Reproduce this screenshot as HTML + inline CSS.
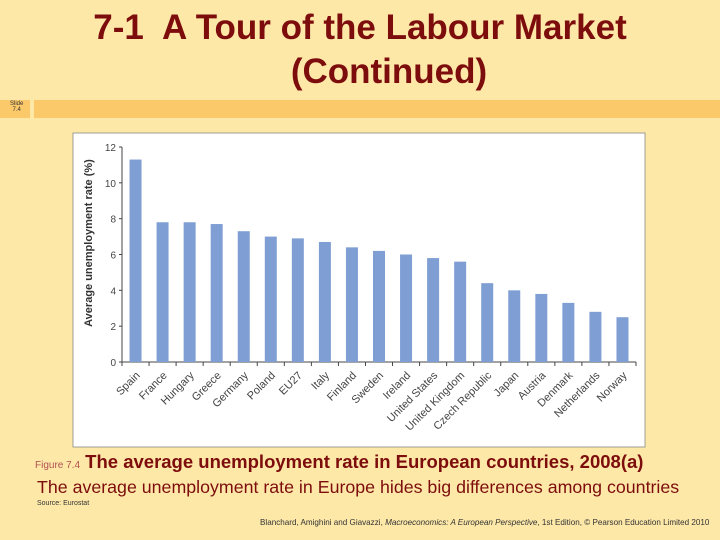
<!DOCTYPE html>
<html><head><meta charset="utf-8"><style>
body{margin:0;width:720px;height:540px;background:#fde8a8;position:relative;overflow:hidden;font-family:"Liberation Sans",sans-serif}
.t{position:absolute;left:0;width:720px;text-align:center;color:#7d0d0d;font-weight:bold;font-size:35px}
</style></head><body>
<div class="t" style="top:8px;left:0">7-1&nbsp; A Tour of the Labour Market</div>
<div class="t" style="top:52px;left:29px">(Continued)</div>
<div style="position:absolute;left:0;top:100px;width:30px;height:18px;background:#fcc96a"></div>
<div style="position:absolute;left:34px;top:100px;width:686px;height:18px;background:#fcc96a"></div>
<div style="position:absolute;left:10px;top:101px;font-size:6px;line-height:6px;text-align:center;color:#333">Slide<br>7.4</div>
<svg style="position:absolute;left:0;top:0" width="720" height="540">
<rect x="73" y="133" width="572" height="314" fill="#fff" stroke="#888" stroke-width="0.8"/>
<g id="g"></g>
</svg>
<div style="position:absolute;left:35px;top:451px;font-size:18.5px;color:#7d0d0d;white-space:nowrap"><span style="font-size:10px;color:#b05050">Figure 7.4</span> <b>The average unemployment rate in European countries, 2008(a)</b></div>
<div style="position:absolute;left:37px;top:477px;font-size:17.8px;color:#7d0d0d;white-space:nowrap">The average unemployment rate in Europe hides big differences among countries</div>
<div style="position:absolute;left:37px;top:500px;font-size:7px;color:#333">Source: Eurostat</div>
<div style="position:absolute;left:260px;top:518px;font-size:8.1px;color:#333;white-space:nowrap">Blanchard, Amighini and Giavazzi, <i>Macroeconomics: A European Perspective</i>, 1st Edition, © Pearson Education Limited 2010</div>
<script>
const categories=["Spain","France","Hungary","Greece","Germany","Poland","EU27","Italy","Finland","Sweden","Ireland","United States","United Kingdom","Czech Republic","Japan","Austria","Denmark","Netherlands","Norway"];
const values=[11.3,7.8,7.8,7.7,7.3,7.0,6.9,6.7,6.4,6.2,6.0,5.8,5.6,4.4,4.0,3.8,3.3,2.8,2.5];
const yTicks=[0,2,4,6,8,10,12];
const NS="http://www.w3.org/2000/svg";
const g=document.getElementById('g');
const x0=122,x1=636,y0=362,y12=147;
const bw=(x1-x0)/categories.length;
const X=i=>x0+bw*(i+0.5);
const Y=v=>y0-(y0-y12)*v/12;
function mk(t,a){const e=document.createElementNS(NS,t);for(const k in a)e.setAttribute(k,a[k]);g.appendChild(e);return e;}
let e=mk('line',{x1:x0,y1:y0,x2:x1,y2:y0,stroke:'#444','stroke-width':1});

e=mk('line',{x1:x0,y1:Y(12),x2:x0,y2:y0,stroke:'#444','stroke-width':1});

yTicks.forEach(v=>{
 const l=mk('line',{x1:x0-3,x2:x0,y1:Y(v),y2:Y(v),stroke:'#444'});
 
 const t=mk('text',{x:x0-6,y:Y(v)+4,'text-anchor':'end','font-size':10,fill:'#444'});t.textContent=v;
 
});
for(let i=0;i<=categories.length;i++){
 const l=mk('line',{x1:x0+bw*i,x2:x0+bw*i,y1:y0,y2:y0+4,stroke:'#444'});
 
}
categories.forEach((c,i)=>{
 const r=mk('rect',{x:X(i)-6,y:Y(values[i]),width:12,height:y0-Y(values[i]),fill:'#7f9fd4'});
 
 const t=mk('text',{x:X(i)+5,y:y0+14,'text-anchor':'end','font-size':11,fill:'#444',transform:`rotate(-45 ${X(i)+5} ${y0+14})`});
 t.textContent=c;
 
});
const yt=mk('text',{x:92,y:243,'text-anchor':'middle','font-size':11,'font-weight':'bold',fill:'#333',transform:'rotate(-90 92 243)'});
yt.textContent='Average unemployment rate (%)';

</script>
</body></html>
